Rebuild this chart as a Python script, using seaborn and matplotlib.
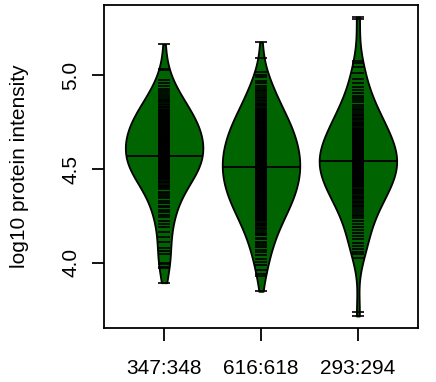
import numpy as np
import pandas as pd
import matplotlib
matplotlib.use('Agg')
import matplotlib.pyplot as plt
import seaborn as sns

labels = ['347:348', '616:618', '293:294']

g347 = [3.893, 3.973, 3.979, 3.995, 4.000, 4.048, 4.064, 4.080,
        4.112, 4.138, 4.163, 4.191, 4.207, 4.222, 4.246, 4.253, 4.270, 4.281, 4.297,
        4.304, 4.321, 4.329, 4.346, 4.351, 4.362, 4.370, 4.377, 4.391, 4.398,
        4.402, 4.411, 4.414, 4.423, 4.430, 4.433, 4.442, 4.448,
        4.451, 4.457, 4.460, 4.466, 4.469, 4.476, 4.480, 4.483, 4.489, 4.494, 4.498,
        4.502, 4.504, 4.510, 4.513, 4.517, 4.519, 4.525, 4.529, 4.531, 4.537, 4.541, 4.543, 4.549,
        4.550, 4.556, 4.559, 4.561, 4.567, 4.571, 4.573, 4.579, 4.583, 4.585, 4.590, 4.592, 4.598,
        4.600, 4.606, 4.608, 4.614, 4.616, 4.621, 4.625, 4.627, 4.633, 4.637, 4.639, 4.645, 4.649,
        4.652, 4.654, 4.660, 4.662, 4.668, 4.670, 4.676, 4.678, 4.684, 4.686, 4.692, 4.694, 4.698,
        4.702, 4.708, 4.710, 4.717, 4.719, 4.725, 4.728, 4.734, 4.736, 4.742, 4.746, 4.750,
        4.753, 4.760, 4.762, 4.769, 4.772, 4.779, 4.782, 4.789, 4.792, 4.799,
        4.804, 4.808, 4.816, 4.821, 4.829, 4.833, 4.842, 4.846,
        4.856, 4.861, 4.870, 4.876, 4.886, 4.893,
        4.906, 4.916, 4.930, 4.943, 4.957, 4.973, 5.027, 5.036, 5.166]

g616 = [3.847, 3.930, 3.942, 3.961, 3.985, 4.006, 4.021, 4.043,
        4.058, 4.069, 4.083, 4.096, 4.104, 4.113, 4.125, 4.134, 4.146,
        4.153, 4.161, 4.170, 4.178, 4.187, 4.195,
        4.203, 4.208, 4.214, 4.221, 4.227, 4.233, 4.240, 4.246,
        4.251, 4.256, 4.261, 4.265, 4.271, 4.276, 4.280, 4.286, 4.291, 4.297,
        4.301, 4.305, 4.309, 4.313, 4.318, 4.322, 4.326, 4.331, 4.335, 4.339, 4.344, 4.348,
        4.351, 4.355, 4.358, 4.362, 4.366, 4.370, 4.374, 4.377, 4.381, 4.385, 4.389, 4.392, 4.396,
        4.400, 4.404, 4.407, 4.411, 4.414, 4.418, 4.421, 4.425, 4.429, 4.432, 4.436, 4.439, 4.443, 4.447,
        4.450, 4.453, 4.457, 4.460, 4.463, 4.467, 4.470, 4.473, 4.477, 4.480, 4.483, 4.487, 4.490, 4.493, 4.497,
        4.500, 4.503, 4.507, 4.510, 4.513, 4.517, 4.520, 4.523, 4.527, 4.530, 4.533, 4.537, 4.540, 4.543, 4.547,
        4.550, 4.554, 4.557, 4.560, 4.564, 4.567, 4.570, 4.574, 4.577, 4.580, 4.584, 4.587, 4.590, 4.594, 4.598,
        4.601, 4.605, 4.608, 4.612, 4.615, 4.619, 4.622, 4.626, 4.629, 4.633, 4.637, 4.640, 4.644, 4.648,
        4.651, 4.655, 4.659, 4.663, 4.666, 4.670, 4.674, 4.678, 4.682, 4.686, 4.690, 4.694, 4.698,
        4.702, 4.706, 4.710, 4.714, 4.718, 4.722, 4.726, 4.731, 4.735, 4.739, 4.744, 4.748,
        4.753, 4.758, 4.763, 4.767, 4.772, 4.777, 4.782, 4.787, 4.792, 4.797,
        4.803, 4.809, 4.815, 4.821, 4.828, 4.834, 4.840, 4.847,
        4.854, 4.862, 4.870, 4.879, 4.887, 4.896,
        4.905, 4.914, 4.924, 4.935, 4.946, 4.958, 4.972, 4.989,
        5.004, 5.018, 5.095, 5.178]

g293 = [3.715, 3.735,
        4.027, 4.044, 4.059, 4.075, 4.091, 4.107, 4.128, 4.144, 4.160, 4.176, 4.193,
        4.209, 4.225, 4.236, 4.247, 4.256, 4.266, 4.277, 4.286, 4.295,
        4.303, 4.310, 4.318, 4.324, 4.331, 4.339, 4.346,
        4.352, 4.358, 4.364, 4.370, 4.377, 4.383, 4.389, 4.396,
        4.402, 4.407, 4.412, 4.417, 4.422, 4.427, 4.432, 4.437, 4.442, 4.447,
        4.451, 4.455, 4.460, 4.464, 4.469, 4.473, 4.478, 4.482, 4.487, 4.491, 4.496,
        4.500, 4.504, 4.508, 4.512, 4.517, 4.521, 4.525, 4.529, 4.533, 4.538, 4.542, 4.546,
        4.551, 4.555, 4.559, 4.563, 4.567, 4.571, 4.576, 4.580, 4.584, 4.588, 4.593, 4.597,
        4.602, 4.606, 4.611, 4.615, 4.620, 4.624, 4.629, 4.633, 4.638, 4.642, 4.647,
        4.653, 4.658, 4.664, 4.669, 4.675, 4.680, 4.686, 4.691, 4.697,
        4.703, 4.709, 4.715, 4.721, 4.728, 4.734, 4.740, 4.746,
        4.753, 4.760, 4.767, 4.774, 4.781, 4.788, 4.795,
        4.804, 4.813, 4.823, 4.833, 4.843, 4.856, 4.868, 4.879, 4.891,
        4.906, 4.922, 4.939, 4.958, 4.981,
        5.012, 5.045, 5.068, 5.077, 5.300, 5.312]

groups = [g347, g616, g293]
y_ticks = [4.0, 4.5, 5.0]

BEAN_COLOR = '#006400'

plt.rcParams['font.family'] = ['Liberation Sans', 'DejaVu Sans']

df = pd.DataFrame({
    'sample': np.repeat(labels, [len(g) for g in groups]),
    'value': np.concatenate(groups),
})

# --- PLOT ---
fig = plt.figure(figsize=(4.36, 3.82), dpi=100)
ax = fig.add_axes([104 / 436, 54 / 382, 314 / 436, 323 / 382])

sns.violinplot(data=df, x='sample', y='value', order=labels, color=BEAN_COLOR,
               saturation=1, inner=None, cut=0, density_norm='width', width=0.8,
               linecolor='black', linewidth=1.3, bw_adjust=1.0, ax=ax)
polys = list(ax.collections)

# bean lines (one short line per observation) + mean line across the bean
for i, (poly, vals) in enumerate(zip(polys, groups)):
    ax.hlines(vals, i - 0.065, i + 0.065, color='black', lw=1.2, zorder=3)
    m = np.mean(vals)
    verts = poly.get_paths()[0].vertices
    left = verts[verts[:, 0] < i]
    order = np.argsort(left[:, 1])
    half = i - np.interp(m, left[order, 1], left[order, 0])
    ax.hlines(m, i - half, i + half, color='black', lw=1.3, zorder=4)

# R-style limits: 4% padding around the data
lo = min(min(g) for g in groups)
hi = max(max(g) for g in groups)
pad = 0.04 * (hi - lo)
ax.set_ylim(lo - pad, hi + pad)
ax.set_xlim(-0.62, 2.62)

ax.set_yticks(y_ticks)
ax.set_yticklabels([f'{t:.1f}' for t in y_ticks])
for lab in ax.get_yticklabels():
    lab.set_rotation(90)
    lab.set_va('center')

ax.set_xlabel('')
ax.set_ylabel('log10 protein intensity', fontsize=15)
ax.yaxis.set_label_coords(-0.24, 0.5)

ax.tick_params(axis='both', direction='out', length=9, width=1.3,
               labelsize=15, color='black')
ax.tick_params(axis='x', pad=13)
ax.tick_params(axis='y', pad=8)
for s in ax.spines.values():
    s.set_visible(True)
    s.set_linewidth(1.3)
    s.set_color('black')

plt.savefig('out.png', dpi=100)
plt.close()
